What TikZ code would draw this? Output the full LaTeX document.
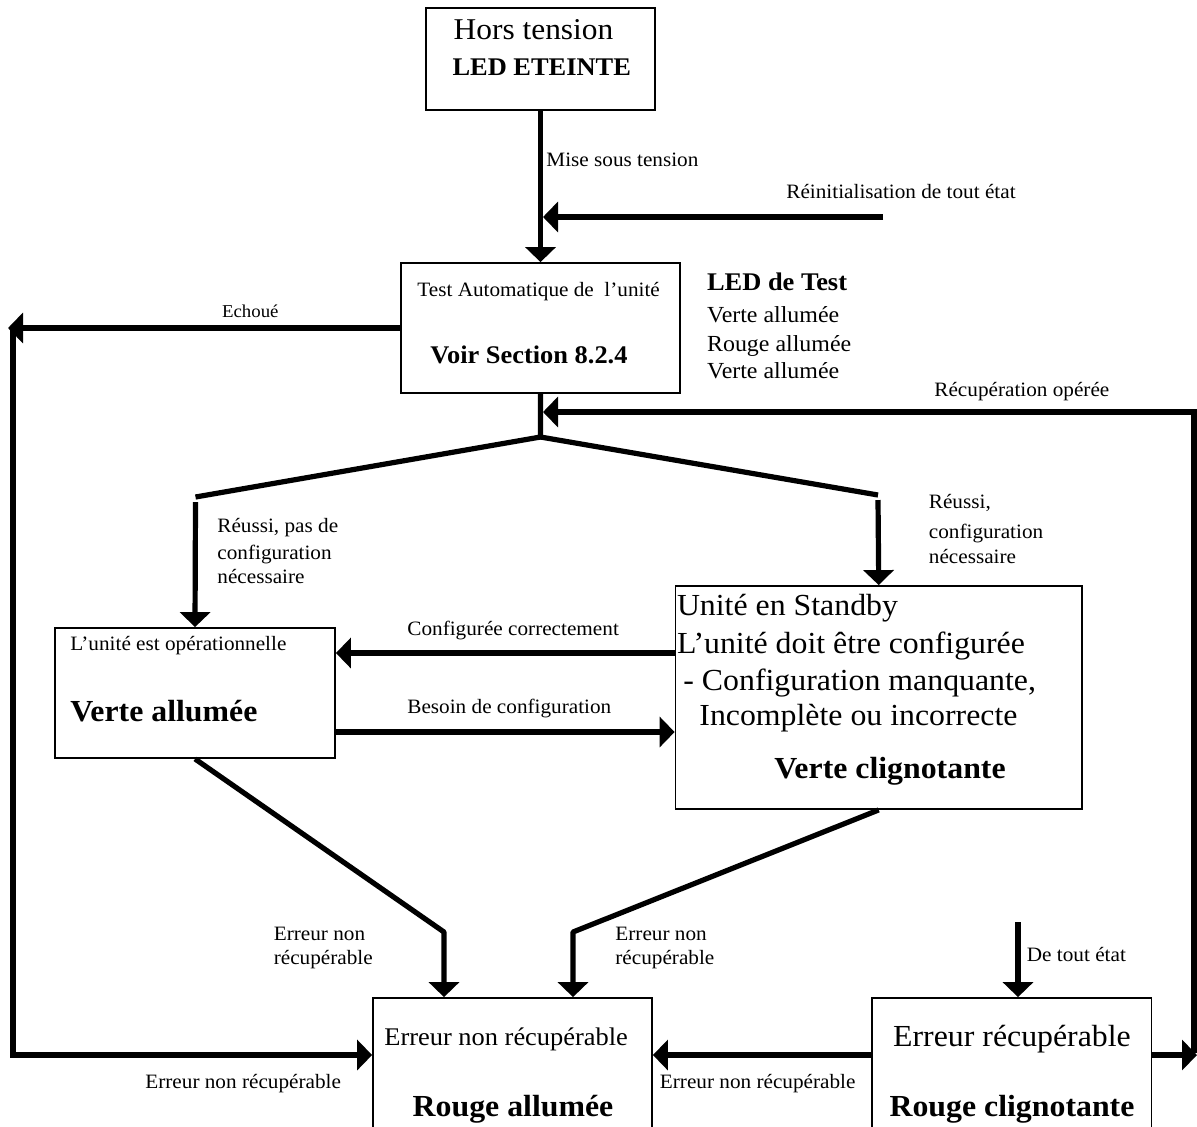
\documentclass[tikz,border=0pt]{standalone}
\usepackage{fontspec}
\setmainfont{Liberation Serif}[FakeStretch=1.04]
\usetikzlibrary{arrows.meta,fit}
\newcommand\fsz[1]{\fontsize{#1}{#1}\selectfont}
\begin{document}
\begin{tikzpicture}[x=0.5pt,y=-0.5pt,
  box/.style={draw,line width=0.9pt,inner sep=0pt,rectangle},
  conn/.style={line width=2.6pt,-{Triangle[length=7.5pt,width=15pt]}},
  wire/.style={line width=2.6pt},
  lbl/.style={inner sep=0pt,anchor=base west,font=\fsz{10.2}},
  lblc/.style={inner sep=0pt,anchor=base,font=\fsz{10.2}},
]
\useasboundingbox (0,0) rectangle (1197,1126);
\clip (0,0) rectangle (1197,1126);
\fill[white] (0,0) rectangle (1197,1126);

% boxes
\node[box,fit={(426,8) (655,110)}] (b1) {};
\node[box,fit={(401,263) (680,393)}] (b2) {};
\node[box,fit={(55,628) (335,758)}] (b3) {};
\node[box,fit={(675.5,586) (1082,809)}] (b4) {};
\node[box,fit={(373,998) (652,1150)}] (b5) {};
\node[box,fit={(872,998) (1151.5,1150)}] (b6) {};

% box texts
\node[lblc,font=\fsz{15.1}] (t1a) at (533.5,39.3) {Hors tension};
\node[lblc,font=\fsz{12.7}\bfseries] (t1b) at (541.7,75) {LED ETEINTE};
\node[lbl] (t2a) at (417,296.7) {Test Automatique de \ l’unité};
\node[lbl,font=\fsz{12.7}\bfseries] (t2b) at (430,363) {Voir Section 8.2.4};
\node[lbl,font=\fsz{12.7}\bfseries] (led0) at (706.7,290.7) {LED de Test};
\node[lbl,font=\fsz{11.5}] (led1) at (706.7,322.7) {Verte allumée};
\node[lbl,font=\fsz{11.5}] (led2) at (706.7,351.7) {Rouge allumée};
\node[lbl,font=\fsz{11.5}] (led3) at (706.7,378.3) {Verte allumée};
\node[lbl] (t3a) at (70,650.7) {L’unité est opérationnelle};
\node[lbl,font=\fsz{15.3}\bfseries] (t3b) at (70,721.7) {Verte allumée};
\node[lbl,font=\fsz{15.3}] (t4a) at (676.6,615) {Unité en Standby};
\node[lbl,font=\fsz{15.3}] (t4b) at (676.6,653.3) {L’unité doit être configurée};
\node[lbl,font=\fsz{15.3}] (t4c) at (683,690) {- Configuration manquante,};
\node[lbl,font=\fsz{15.3}] (t4d) at (699,725) {Incomplète ou incorrecte};
\node[lbl,font=\fsz{15.3}\bfseries] (t4e) at (774,778.3) {Verte clignotante};
\node[lbl,font=\fsz{12.7}] (t5a) at (384,1045) {Erreur non récupérable};
\node[lblc,font=\fsz{15.3}\bfseries] (t5b) at (513,1116.7) {Rouge allumée};
\node[lblc,font=\fsz{15.3}] (t6a) at (1012,1046.7) {Erreur récupérable};
\node[lblc,font=\fsz{15.3}\bfseries] (t6b) at (1012,1116.7) {Rouge clignotante};

% junction coordinates
\coordinate (j0) at (540.5,437);
\coordinate (jl) at (195.5,497);
\coordinate (jr) at (878,495);
\coordinate (jl2) at (195.5,502);
\coordinate (jr2) at (878,500);
\coordinate (rin) at (883,217);
\coordinate (rintip) at (543,217);
\coordinate (echtip) at (8,328);
\coordinate (lc1) at (13,326);
\coordinate (lc2) at (13,1055);
\coordinate (rc1) at (1194,1053);
\coordinate (rc2) at (1194,412);
\coordinate (rectip) at (543,412);
\coordinate (redge) at (1197,1055);
\coordinate (dl) at (444,932);
\coordinate (dr) at (573,932);
\coordinate (dt) at (1018,922);

% connectors
\draw[conn] (b1.south) -- (b2.north);
\draw[conn] (rin) -- (rintip);
\draw[conn] (b2.west) -- (echtip);
\draw[conn] (lc1) -- (lc2) -- (b5.west |- lc2);
\draw[wire] (b2.south) -- (j0) -- (jl);
\draw[wire] (j0) -- (jr);
\draw[conn] (jl2) -- (b3.north);
\draw[conn] (jr2) -- (b4.north);
\draw[conn] (b4.west |- 0,653) -- (b3.east |- 0,653);
\draw[conn] (b3.east |- 0,732) -- (b4.west |- 0,732);
\draw[conn,line join=round] (b3.south) -- (dl) -- (b5.north -| dl);
\draw[conn,line join=round] (b4.south) -- (dr) -- (b5.north -| dr);
\draw[conn] (dt) -- (b6.north -| dt);
\draw[conn] (b6.west |- 0,1055) -- (b5.east |- 0,1055);
\draw[conn] (b6.east |- 0,1055) -- (redge);
\draw[conn] (rc1) -- (rc2) -- (rectip);

% connector labels
\node[lbl] (l1) at (546,166.7) {Mise sous tension};
\node[lbl] (l2) at (786,198) {Réinitialisation de tout état};
\node[lbl,font=\fsz{9.05}] (l3) at (221.7,317) {Echoué};
\node[lbl] (l4) at (934,396.7) {Récupération opérée};
\node[lbl] (l5a) at (217,532.7) {Réussi, pas de};
\node[lbl] (l5b) at (217,559.3) {configuration};
\node[lbl] (l5c) at (217,583.3) {nécessaire};
\node[lbl] (l6a) at (928.5,508.3) {Réussi,};
\node[lbl] (l6b) at (928.5,538.3) {configuration};
\node[lbl] (l6c) at (928.5,563.3) {nécessaire};
\node[lbl] (l7) at (407,635) {Configurée correctement};
\node[lbl] (l8) at (407,713.3) {Besoin de configuration};
\node[lbl] (l9a) at (273.4,940) {Erreur non};
\node[lbl] (l9b) at (273.4,964) {récupérable};
\node[lbl] (l10a) at (615,940) {Erreur non};
\node[lbl] (l10b) at (615,964) {récupérable};
\node[lbl] (l11) at (1026.5,961.7) {De tout état};
\node[lbl] (l12) at (145,1088.3) {Erreur non récupérable};
\node[lbl] (l13) at (659.5,1088) {Erreur non récupérable};
\end{tikzpicture}
\end{document}
